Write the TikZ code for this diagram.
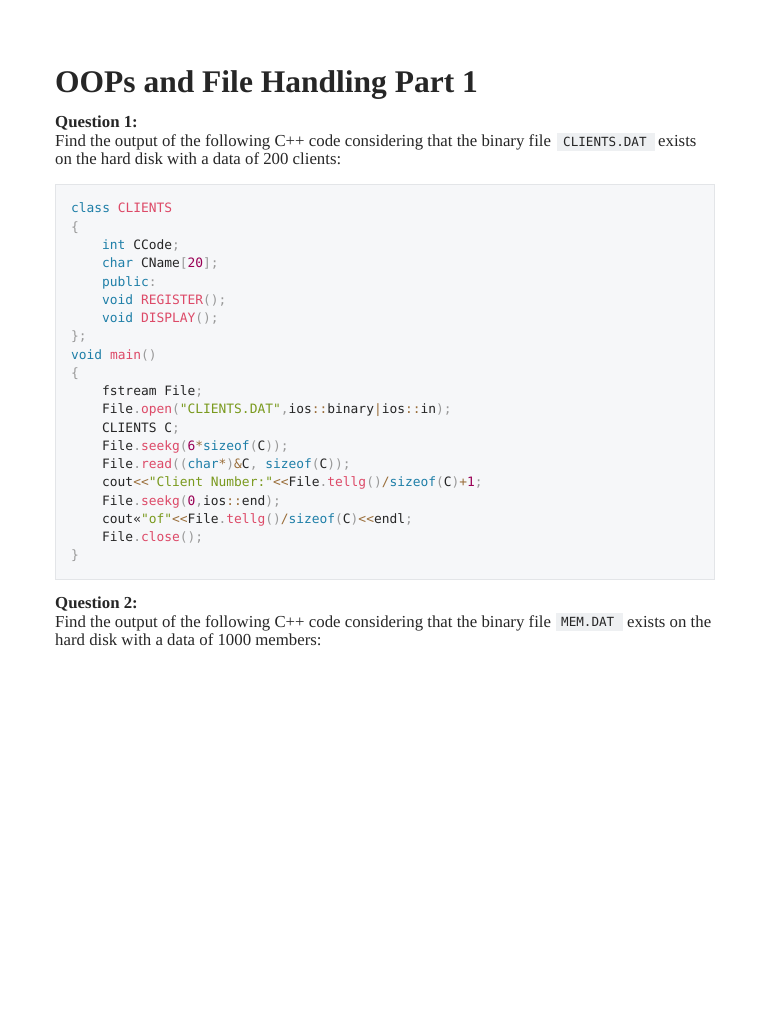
\documentclass[tikz,border=0pt]{standalone}
\usepackage{fontspec}
\setmainfont{Liberation Serif}
\newfontfamily\cf{DejaVu Sans Mono}
\definecolor{kwc}{HTML}{1F7FA8}
\definecolor{fnc}{HTML}{DD4A68}
\definecolor{stc}{HTML}{7A9A1E}
\definecolor{puc}{HTML}{999999}
\definecolor{nmc}{HTML}{990055}
\definecolor{opc}{HTML}{9A6E3A}
\definecolor{codebg}{HTML}{F6F7F9}
\definecolor{codebd}{HTML}{E3E5E8}
\definecolor{inbg}{HTML}{EEF0F2}
\newcommand\kw[1]{\textcolor{kwc}{#1}}
\newcommand\fn[1]{\textcolor{fnc}{#1}}
\newcommand\sg[1]{\textcolor{stc}{#1}}
\newcommand\pu[1]{\textcolor{puc}{#1}}
\newcommand\nm[1]{\textcolor{nmc}{#1}}
\newcommand\op[1]{\textcolor{opc}{#1}}
\tikzset{
 code/.style={anchor=base west,inner sep=0pt,font=\cf\fontsize{12.9}{14}\selectfont,text=black!85},
 body/.style={anchor=base west,inner sep=0pt,font=\fontsize{16.8}{18}\selectfont,text=black!85},
 inl/.style={anchor=base west,inner sep=0pt,font=\cf\fontsize{12.6}{13}\selectfont,text=black!85}
}
\begin{document}
\begin{tikzpicture}[x=1pt,y=-1pt]
\useasboundingbox[fill=white] (0,0) rectangle (768,1024);
\node[anchor=base west,inner sep=0pt,font=\bfseries\fontsize{31.5}{34}\selectfont,text=black!85] (title) at (55,93) {OOPs and File Handling Part 1};
\node[body,font=\bfseries\fontsize{16.8}{18}\selectfont] (q1) at (55,128) {Question 1:};
\fill[inbg] (557,133) rectangle (655,151);
\node[body] (q1a) at (55,147) {Find the output of the following C++ code considering that the binary file};
\node[inl] (cd) at (563,146.5) {CLIENTS.DAT};
\node[body] (q1b) at (658,147) {exists};
\node[body] (q1c) at (55,165) {on the hard disk with a data of 200 clients:};
\draw[codebd,fill=codebg] (55,184) rectangle (714,579);
\foreach \i/\x/\t in {
0/71/{\kw{class} \fn{CLIENTS}},
1/71/{\pu{\{}},
2/102/{\kw{int} CCode\pu{;}},
3/102/{\kw{char} CName\pu{[}\nm{20}\pu{];}},
4/102/{\kw{public}\pu{:}},
5/102/{\kw{void} \fn{REGISTER}\pu{();}},
6/102/{\kw{void} \fn{DISPLAY}\pu{();}},
7/71/{\pu{\};}},
8/71/{\kw{void} \fn{main}\pu{()}},
9/71/{\pu{\{}},
10/102/{fstream File\pu{;}},
11/102/{File\pu{.}\fn{open}\pu{(}\sg{"CLIENTS.DAT"}\pu{,}ios\op{::}binary\op{|}ios\op{::}in\pu{);}},
12/102/{CLIENTS C\pu{;}},
13/102/{File\pu{.}\fn{seekg}\pu{(}\nm{6}\op{*}\kw{sizeof}\pu{(}C\pu{));}},
14/102/{File\pu{.}\fn{read}\pu{((}\kw{char}\op{*}\pu{)}\op{\&}C\pu{,} \kw{sizeof}\pu{(}C\pu{));}},
15/102/{cout\op{<{}<}\sg{"Client Number:"}\op{<{}<}File\pu{.}\fn{tellg}\pu{()}\op{/}\kw{sizeof}\pu{(}C\pu{)}\op{+}\nm{1}\pu{;}},
16/102/{File\pu{.}\fn{seekg}\pu{(}\nm{0}\pu{,}ios\op{::}end\pu{);}},
17/102/{cout«\sg{"of"}\op{<{}<}File\pu{.}\fn{tellg}\pu{()}\op{/}\kw{sizeof}\pu{(}C\pu{)}\op{<{}<}endl\pu{;}},
18/102/{File\pu{.}\fn{close}\pu{();}},
19/71/{\pu{\}}}}
  \node[code] (c\i) at (\x,{213+18.25*\i}) {\t};
\node[body,font=\bfseries\fontsize{16.8}{18}\selectfont] (q2) at (55,608) {Question 2:};
\fill[inbg] (556,613) rectangle (623,631);
\node[body] (q2a) at (55,627) {Find the output of the following C++ code considering that the binary file};
\node[inl] (md) at (561,626.5) {MEM.DAT};
\node[body] (q2b) at (627,627) {exists on the};
\node[body] (q2c) at (55,645) {hard disk with a data of 1000 members:};
\end{tikzpicture}
\end{document}
